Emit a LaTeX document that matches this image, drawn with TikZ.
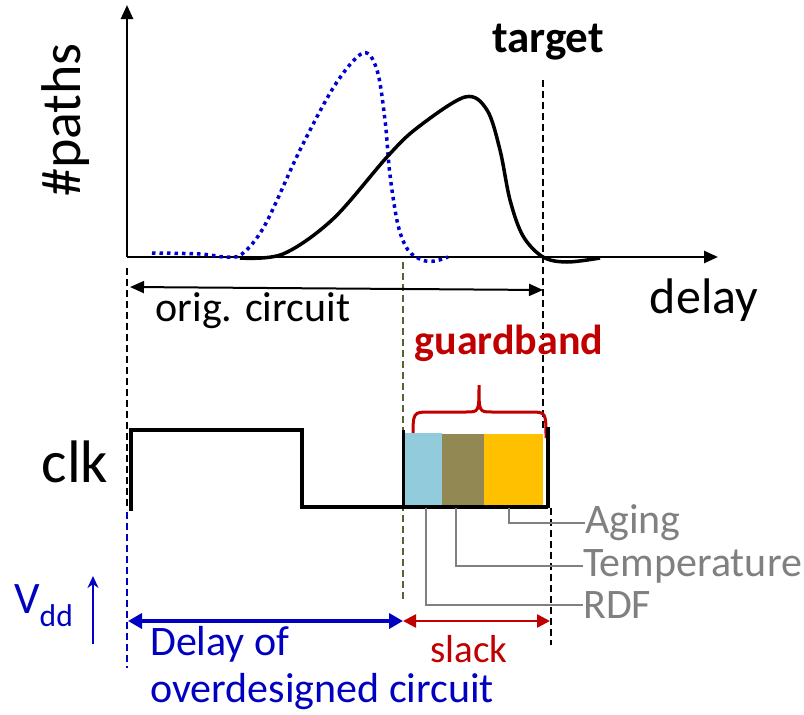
\documentclass[tikz,border=0pt]{standalone}
\usepackage{fontspec}
\setmainfont{Carlito}
\usepackage{tikz}
\usetikzlibrary{arrows.meta}

\definecolor{vblue}{RGB}{0,0,192}
\definecolor{dblue}{RGB}{0,0,210}
\definecolor{gred}{RGB}{192,0,0}
\definecolor{olivedash}{RGB}{85,100,50}
\definecolor{lgray}{RGB}{128,128,128}
\definecolor{rdfcol}{RGB}{146,203,220}
\definecolor{tempcol}{RGB}{146,136,84}
\definecolor{agecol}{RGB}{255,192,0}

\newcommand{\fs}[1]{\fontsize{#1}{#1}\selectfont}

\begin{document}
\begin{tikzpicture}[x=1pt,y=-1pt,
  tip/.style={-{Triangle[length=14pt,width=12pt]}},
  guide/.style={dashed,line width=1.5pt,dash pattern=on 7pt off 4pt},
  leader/.style={lgray,line width=2pt},
  factor/.style={lgray,anchor=west,inner sep=0pt,font=\fs{42}},
  bluetext/.style={vblue,anchor=west,inner sep=0pt,font=\fs{42}}]
\useasboundingbox (0,0) rectangle (804,715);

% axes
\coordinate (o) at (127,257);
\coordinate (ytop) at (127,5);
\coordinate (xend) at (718,257);
\draw[tip,line width=2.5pt] (o) -- (ytop);
\draw[tip,line width=2.5pt] (o) -- (xend);
\node[rotate=90,font=\fs{56}] (paths) at (66,120) {\#paths};
\node[font=\fs{50}] (delay) at (704,300) {delay};
\node[font=\bfseries\fs{45}] (target) at (548,42) {target};

% path delay distributions
\draw[dblue,line width=3.5pt,dash pattern=on 3.5pt off 4pt,line cap=butt]
  plot[smooth,tension=0.55] coordinates {(152,253) (200,254) (225,257) (242,254)
  (265,225) (300,150) (335,85) (363,53) (377,70) (385,120) (390,175)
  (398,225) (408,250) (422,260) (435,261) (448,257)};
\draw[line width=3.5pt]
  plot[smooth,tension=0.55] coordinates {(240,258) (283,254) (333,219)
  (387,157) (417,128) (465,97) (487,110) (500,150) (510,200) (523,236)
  (543,257) (567,262) (600,258)};

% guide lines
\draw[guide] (543,80) -- (543,430);
\draw[guide] (551,508) -- (551,645);
\draw[guide] (127,268) -- (127,510);
\draw[guide,vblue] (127,512) -- (127,668);
\draw[guide,olivedash] (403,262) -- (403,600);

% original circuit delay
\coordinate (oa) at (130,287);
\coordinate (ob) at (543,290);
\draw[{Triangle[length=14pt,width=12pt]}-{Triangle[length=14pt,width=12pt]},line width=2pt] (oa) -- (ob);
\node[font=\fs{42}] (orig) at (253,311) {orig. circuit};

% guardband
\node[gred,font=\bfseries\fs{42}] (guard) at (509,343) {guardband};
\draw[gred,line width=3pt] (413,438) .. controls (413,412) .. (430,412) -- (466,412)
  .. controls (479,412) .. (479,385) .. controls (479,412) .. (492,412) -- (530,412)
  .. controls (546,412) .. (546,438);

% clock
\node[font=\fs{60}] (clk) at (75,462) {clk};
\fill[rdfcol] (405,433) rectangle (442,507);
\fill[tempcol] (442,434) rectangle (484,507);
\fill[agecol] (484,434) rectangle (543,507);
\draw[line width=3.5pt] (131,511) -- (131,430) -- (302,430) -- (302,507) -- (548,507);
\draw[line width=3pt] (403,430) -- (403,507);
\draw[line width=3.5pt] (548,427) -- (548,508);

% variation sources
\node[factor] (aging) at (585,523) {Aging};
\node[factor] (temp) at (583,566) {Temperature};
\node[factor] (rdf) at (583,605) {RDF};
\draw[leader] (509,508) |- (aging.west);
\draw[leader] (456,508) |- (temp.west);
\draw[leader] (426,508) |- (rdf.west);

% overdesigned delay and slack
\coordinate (da) at (128,621);
\coordinate (db) at (403,621);
\coordinate (sb) at (550,621);
\draw[vblue,line width=4pt,{Triangle[length=14pt,width=15pt]}-{Triangle[length=14pt,width=15pt]}] (da) -- (db);
\draw[gred,line width=2.5pt,{Triangle[length=13pt,width=13pt]}-{Triangle[length=13pt,width=13pt]}] (db) -- (sb);
\node[bluetext] (delayof) at (150,644) {Delay of};
\node[bluetext] (overdes) at (150,692) {overdesigned circuit};
\node[gred,font=\fs{39},inner sep=0pt] (slack) at (469,649) {slack};

% supply voltage
\node[vblue,font=\fs{45},anchor=west,inner sep=0pt] (vdd) at (14,606) {V\textsubscript{dd}};
\coordinate (va) at (93,644);
\coordinate (vb) at (93,576);
\draw[vblue,line width=2pt,-{Stealth[length=12pt,width=11pt,open]}] (va) -- (vb);
\end{tikzpicture}
\end{document}
